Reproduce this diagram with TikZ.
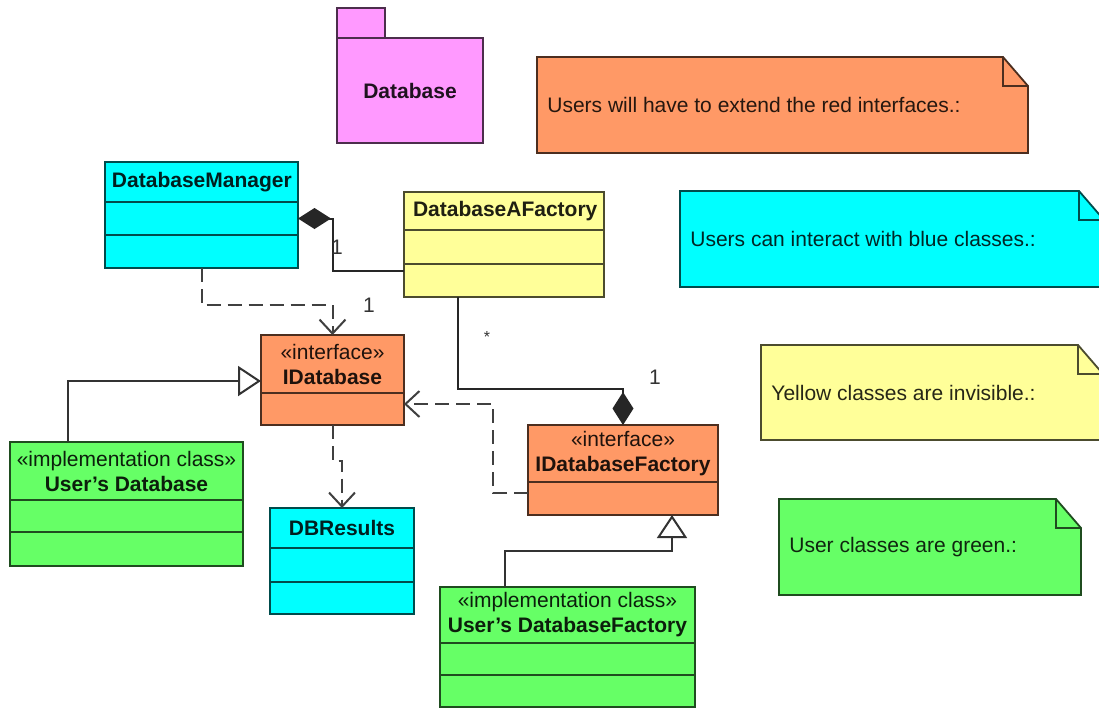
\documentclass[tikz,border=0pt]{standalone}
\usepackage{fontspec}
\setmainfont{Liberation Sans}
\usetikzlibrary{positioning,arrows.meta}

\definecolor{umlcyan}{HTML}{00FFFF}
\definecolor{umlyellow}{HTML}{FFFF99}
\definecolor{umlorange}{HTML}{FF9966}
\definecolor{umlgreen}{HTML}{66FF66}
\definecolor{umlpink}{HTML}{FF99FF}

\newcommand{\umlfont}{\fontsize{10.5}{12.5}\selectfont}

\tikzset{
	classhead/.style={rectangle, draw=#1!30!black, fill=#1, text=#1!12!black, line width=0.9pt, inner sep=0pt, outer sep=0pt, align=center, font=\umlfont},
	classpart/.style={rectangle, draw=#1!30!black, fill=#1, line width=0.9pt, inner sep=0pt, outer sep=0pt},
	depend/.style={draw=black!75, line width=1pt, dash pattern=on 7pt off 3.5pt, -{Straight Barb[length=7pt,width=13pt]}},
	compose/.style={draw=black!85, line width=1pt, -{Diamond[length=16.5pt,width=10.5pt]}},
	realize/.style={draw=black!80, line width=1pt, -{Triangle[open,fill=white,length=11.5pt,width=15pt]}},
	mult/.style={font=\umlfont, text=black!80, inner sep=0pt},
	notebox/.style={line width=0.9pt, line join=miter},
	notetext/.style={font=\umlfont, inner sep=0pt, anchor=west}
}

% note with folded corner: name, colour, x1, y1, x2, y2, text
\newcommand{\umlnote}[7]{%
	\draw[notebox, fill=#2, draw=#2!30!black] (#3,#4) -- (#5-25,#4) -- (#5,#4+29) -- (#5,#6) -- (#3,#6) -- cycle;
	\draw[notebox, draw=#2!30!black] (#5-25,#4) -- (#5-25,#4+29) -- (#5,#4+29);
	\node[notetext, text=#2!15!black] (#1) at ({#3+10},{(#4+#6)/2}) {#7};
}

\begin{document}
\begin{tikzpicture}[x=0.5pt,y=-0.5pt]
	\useasboundingbox (0,0) rectangle (1099,709);
	\fill[white] (0,0) rectangle (1099,709);
	\clip (0,0) rectangle (1099,709);

	% package
	\node[classpart=umlpink, anchor=north west, minimum width=24pt, minimum height=15pt] (pkgtab) at (337,8) {};
	\node[classhead=umlpink, anchor=north west, minimum width=73pt, minimum height=52.5pt] (pkg) at (pkgtab.south west) {\textbf{Database}};

	% notes
	\umlnote{n1}{umlorange}{537}{57}{1028}{153}{Users will have to extend the red interfaces.:}
	\umlnote{n2}{umlcyan}{680}{191}{1104}{287}{Users can interact with blue classes.:}
	\umlnote{n3}{umlyellow}{761}{345}{1103}{440}{Yellow classes are invisible.:}
	\umlnote{n4}{umlgreen}{779}{499}{1081}{595}{User classes are green.:}

	% classes
	\node[classhead=umlcyan, anchor=north west, minimum width=96.5pt, minimum height=20pt, text width=89.5pt, align=left] (dbm) at (105,162) {\textbf{DatabaseManager}};
	\node[classpart=umlcyan, below=0pt of dbm, minimum width=96.5pt, minimum height=16.5pt] (dbm1) {};
	\node[classpart=umlcyan, below=0pt of dbm1, minimum width=96.5pt, minimum height=16.5pt] (dbm2) {};

	\node[classhead=umlyellow, anchor=north west, minimum width=100pt, minimum height=19pt, text width=91pt, align=left] (dbaf) at (404,192) {\textbf{DatabaseAFactory}};
	\node[classpart=umlyellow, below=0pt of dbaf, minimum width=100pt, minimum height=17pt] (dbaf1) {};
	\node[classpart=umlyellow, below=0pt of dbaf1, minimum width=100pt, minimum height=16.5pt] (dbaf2) {};

	\node[classhead=umlorange, anchor=north west, minimum width=71.5pt, minimum height=29pt] (idb) at (261,335) {«interface»\\\textbf{IDatabase}};
	\node[classpart=umlorange, below=0pt of idb, minimum width=71.5pt, minimum height=16pt] (idb1) {};

	\node[classhead=umlgreen, anchor=north west, minimum width=116.5pt, minimum height=29pt] (udb) at (10,442) {«implementation class»\\\textbf{User's Database}};
	\node[classpart=umlgreen, below=0pt of udb, minimum width=116.5pt, minimum height=16pt] (udb1) {};
	\node[classpart=umlgreen, below=0pt of udb1, minimum width=116.5pt, minimum height=17pt] (udb2) {};

	\node[classhead=umlcyan, anchor=north west, minimum width=72pt, minimum height=20pt] (dbr) at (270,508) {\textbf{DBResults}};
	\node[classpart=umlcyan, below=0pt of dbr, minimum width=72pt, minimum height=17pt] (dbr1) {};
	\node[classpart=umlcyan, below=0pt of dbr1, minimum width=72pt, minimum height=16pt] (dbr2) {};

	\node[classhead=umlorange, anchor=north west, minimum width=95pt, minimum height=28.5pt] (idbf) at (528,425) {«interface»\\\textbf{IDatabaseFactory}};
	\node[classpart=umlorange, below=0pt of idbf, minimum width=95pt, minimum height=16.5pt] (idbf1) {};

	\node[classhead=umlgreen, anchor=north west, minimum width=127.5pt, minimum height=28pt] (udbf) at (440,587) {«implementation class»\\\textbf{User's DatabaseFactory}};
	\node[classpart=umlgreen, below=0pt of udbf, minimum width=127.5pt, minimum height=16pt] (udbf1) {};
	\node[classpart=umlgreen, below=0pt of udbf1, minimum width=127.5pt, minimum height=16pt] (udbf2) {};

	% connectors
	\draw[compose] ([yshift=-3.5pt]dbaf2.north west) -| ([xshift=17.5pt]dbm1.east) -- (dbm1.east);
	\draw[depend] (dbm2.south) -- ++(0,37) -| (idb.north);
	\draw[realize] ([xshift=29pt]udb.north west) |- ([yshift=-8.5pt]idb.west);
	\draw[depend] (idb1.south) -- ++(0,36) -| (dbr.north);
	\draw[compose] ([xshift=27pt]dbaf2.south west) -- ++(0,92) -| (idbf.north);
	\draw[depend] ([yshift=3pt]idbf1.west) -- ++(-35,0) |- ([yshift=2.5pt]idb1.east);
	\draw[realize] ([xshift=32.5pt]udbf.north west) -- ++(0,-36) -| ([xshift=-23pt]idbf1.south east);

	% multiplicities
	\node[mult] (m1) at (337,247) {1};
	\node[mult] (m2) at (369,305) {1};
	\node[mult, font=\footnotesize] (m3) at (487,337) {*};
	\node[mult] (m4) at (655,377) {1};
\end{tikzpicture}
\end{document}
